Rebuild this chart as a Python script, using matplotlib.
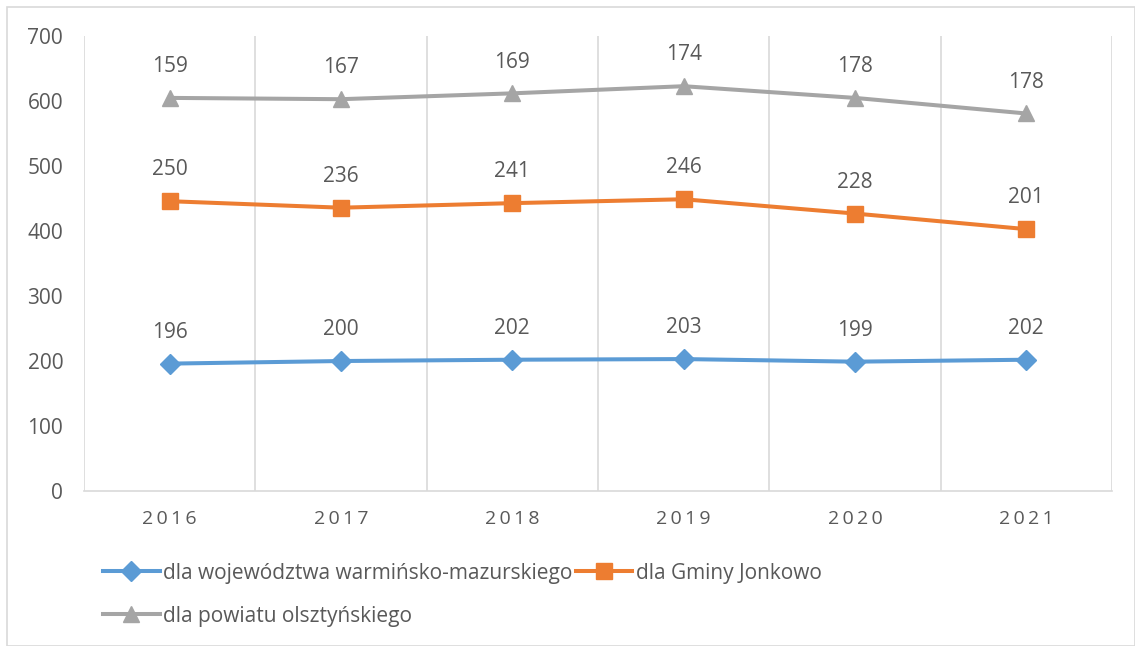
import numpy as np
import matplotlib.pyplot as plt
from matplotlib.patches import Rectangle

plt.rcParams['font.family'] = ['Open Sans', 'DejaVu Sans']

# dane (wykres skumulowany - etykiety to wartości serii)
years = ["2016", "2017", "2018", "2019", "2020", "2021"]
woj = [196, 200, 202, 203, 199, 202]
gmina = [250, 236, 241, 246, 228, 201]
powiat = [159, 167, 169, 174, 178, 178]
names = ["dla województwa warmińsko-mazurskiego",
         "dla Gminy Jonkowo",
         "dla powiatu olsztyńskiego"]

colors = ["#5B9BD5", "#ED7D31", "#A5A5A5"]
markers = ["D", "s", "^"]
msizes = [10, 11, 11]
txt = "#595959"

series = [woj, gmina, powiat]
stacked = np.cumsum(np.array(series), axis=0)

fig = plt.figure(figsize=(11.35, 6.46), dpi=100)
ax = fig.add_axes([0.074, 0.24, 0.9057, 0.704])

x = np.arange(len(years))
handles = []
for i in range(3):
    h, = ax.plot(x, stacked[i], color=colors[i], lw=2.9, marker=markers[i],
                 ms=msizes[i], label=names[i], zorder=3)
    handles.append(h)
    for xi, yi, v in zip(x, stacked[i], series[i]):
        ax.annotate(str(v), (xi, yi), xytext=(0, 15), textcoords="offset points",
                    ha="center", va="bottom", fontsize=15, color=txt)

for b in np.arange(-0.5, len(years), 1.0):
    ax.axvline(b, color="#D9D9D9", lw=1.2, zorder=1)

ax.set_xlim(-0.5, len(years) - 0.5)
ax.set_ylim(0, 700)
ax.set_yticks(range(0, 701, 100))
ax.set_xticks(x)
ax.set_xticklabels(["\u2009".join(y) for y in years])
ax.tick_params(length=0, labelsize=15, labelcolor=txt)
ax.tick_params(axis="x", pad=14, labelsize=14)
ax.tick_params(axis="y", pad=15)
for s in ["top", "right", "left"]:
    ax.spines[s].set_visible(False)
ax.spines["bottom"].set_color("#D9D9D9")
ax.spines["bottom"].set_linewidth(1.2)

leg = fig.legend([handles[0], handles[2], handles[1]],
                 [names[0], names[2], names[1]],
                 ncol=2, loc="upper left", bbox_to_anchor=(0.091, 0.129),
                 frameon=False, fontsize=15, handlelength=2.7,
                 handletextpad=0.15, columnspacing=0.2, labelspacing=1.05,
                 borderaxespad=0, borderpad=0)
for t in leg.get_texts():
    t.set_color(txt)

fig.patches.append(Rectangle((7 / 1135, 0), 1 - 7 / 1135, 1 - 7 / 646,
                             transform=fig.transFigure, fill=False,
                             edgecolor="#D9D9D9", lw=1.2))

fig.savefig("out.png", dpi=100)
